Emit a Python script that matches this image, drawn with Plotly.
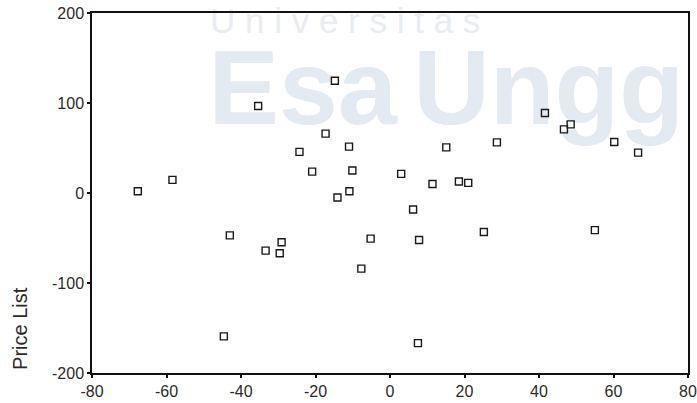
import plotly.graph_objects as go

# Scatter of price-list deviations (x) against Price List (y)
x_vals = [-67.7, -58.4, -35.4, -14.8, -24.3, -17.3, -20.9, -11.0, -10.1, -10.9,
          -14.1, -5.2, -7.7, 3.0, 6.2, 7.8, 11.4, 15.1, 18.5, 21.0,
          28.7, 25.2, 41.6, 46.7, 48.5, 60.2, 66.6, 55.0, -43.0, -33.4,
          -29.1, -29.6, -44.6, 7.5]
y_vals = [2.0, 14.6, 96.6, 124.7, 45.7, 66.0, 23.8, 51.5, 25.0, 2.0,
          -5.0, -50.7, -84.0, 21.3, -18.3, -52.3, 10.0, 50.7, 12.7, 11.3,
          56.3, -43.4, 88.9, 70.7, 76.2, 56.7, 44.9, -41.2, -47.1, -64.0,
          -54.8, -67.0, -159.3, -166.8]

x_ticks = [-80, -60, -40, -20, 0, 20, 40, 60, 80]
y_ticks = [-200, -100, 0, 100, 200]
y_title = "Price List"

# Background watermark text (drawn beneath the markers)
wm_small = "Universitas"
wm_big_left = "Esa"
wm_big_right = "Ungg"

fig = go.Figure()
fig.add_trace(go.Scatter(
    x=x_vals, y=y_vals, mode="markers",
    marker=dict(symbol="square-open", size=7, color="#1a1a1a",
                line=dict(width=1.4, color="#1a1a1a")),
    showlegend=False, hoverinfo="x+y",
))

axis_font = dict(family="Liberation Sans, Arial, sans-serif", size=16, color="#2b2b2b")

fig.update_xaxes(range=[-80, 80], tickvals=x_ticks, ticktext=[str(v) for v in x_ticks],
                 showgrid=False, zeroline=False, showline=True, mirror=True,
                 linecolor="#111", linewidth=1.5, ticks="outside", ticklen=3,
                 tickwidth=2, tickcolor="#111", tickfont=axis_font, automargin=False)
fig.update_yaxes(range=[-200, 200], tickvals=y_ticks, ticktext=[str(v) for v in y_ticks],
                 showgrid=False, zeroline=False, showline=True, mirror=True,
                 linecolor="#111", linewidth=1.5, ticks="outside", ticklen=3,
                 tickwidth=2, tickcolor="#111", tickfont=axis_font, automargin=False)

wm_font = "Liberation Sans, Arial, sans-serif"
wm_color_small = "#e9ecf1"
wm_color_big = "#e4eaf2"
fig.update_layout(
    width=697, height=403,
    margin=dict(l=92, r=9, t=13, b=30),
    paper_bgcolor="white", plot_bgcolor="white",
    shapes=[
        dict(type="rect", xref="paper", yref="paper", x0=0.193, x1=0.75,
             y0=0.949, y1=1.027, layer="below", line=dict(width=0),
             label=dict(text=" ".join(wm_small), textposition="middle left", padding=0,
                        font=dict(family=wm_font, size=35, color=wm_color_small))),
        dict(type="rect", xref="paper", yref="paper", x0=0.19, x1=0.52,
             y0=0.707, y1=0.938, layer="below", line=dict(width=0),
             label=dict(text="<b>" + wm_big_left + "</b>", textposition="middle left",
                        padding=0, font=dict(family=wm_font, size=106, color=wm_color_big))),
        dict(type="rect", xref="paper", yref="paper", x0=0.534, x1=1.0,
             y0=0.707, y1=0.938, layer="below", line=dict(width=0),
             label=dict(text="<b>" + wm_big_right + "</b>", textposition="middle left",
                        padding=0, font=dict(family=wm_font, size=106, color=wm_color_big))),
    ],
    annotations=[
        dict(text=y_title, xref="paper", yref="paper", x=-0.121, y=0.125,
             textangle=-90, showarrow=False, xanchor="center", yanchor="middle",
             font=dict(family="Liberation Sans, Arial, sans-serif", size=20, color="#2b2b2b")),
    ],
)

fig.write_html("out.html")
